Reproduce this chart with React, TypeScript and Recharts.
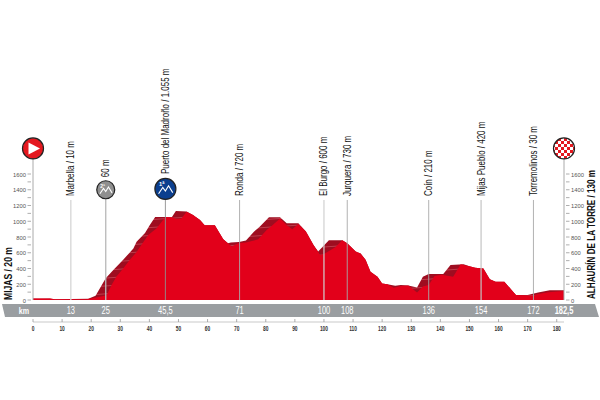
import React from 'react';
import { ComposedChart, Area, XAxis, YAxis, ReferenceLine, ReferenceDot } from 'recharts';

const frontKm = [0,5.8,7.5,18.4,23,25.3,27,28.7,31,33.3,35.6,38,39.6,42.5,45.5,47.7,49.3,51,52.8,55,57.4,59,62.5,64.2,65.4,67,68.3,70.8,73.2,77.4,80.3,82,84.9,87.2,89.1,91.2,93.8,96.4,98.7,100,103.9,106.3,108,110.9,112.6,114.3,116,118.4,120,121.8,124,126.4,129,132,134,136,138,140.5,144.4,147,150,152,154.8,157,159,162,165,166,172,173.6,177,182.5];
const frontAlt = [20,20,10,10,40,60,190,300,400,510,610,740,825,910,1055,1050,1030,1035,1120,1080,1015,950,950,845,770,720,680,725,730,770,890,940,1035,950,900,965,870,700,570,585,670,760,720,615,590,510,360,295,210,200,155,178,185,95,170,190,305,320,295,455,430,410,400,262,233,233,105,65,55,75,100,115];
const backKm = [0,5.8,7.5,19,21.5,23,25,27.6,31,34.5,35.6,38.5,40.2,42,45.5,47.7,49.1,52.8,55,57.4,59,62.5,64.2,65.4,67,68,70.8,73.2,76,77.9,81.1,84.9,87.2,91.2,93.8,96.4,98,101.7,106.3,108,110.9,112.6,114.3,116,118.4,120,121.8,124.5,126.4,129,132,134,136,141,143.5,148,150,152,154.8,157,159,162,165,166,170,173.6,177.6,182.5];
const backAlt = [20,20,10,15,55,150,275,380,510,655,740,850,955,1055,1055,1050,1130,1125,1080,1015,950,950,845,770,720,730,735,755,870,930,1050,1050,975,975,870,700,615,760,760,720,615,590,510,360,295,210,200,180,190,185,160,295,330,330,445,455,430,410,400,262,233,233,105,65,65,95,125,125];

const yTicks = [0,100,200,300,400,500,600,700,800,900,1000,1100,1200,1300,1400,1500,1600];
const scaleTicks = [0,10,20,30,40,50,60,70,80,90,100,110,120,130,140,150,160,170,180];
const kmTicks = [13,25,45.5,71,100,108,136,154,172,182.5];
const kmLabels = ['13','25','45,5','71','100','108','136','154','172','182,5'];

const stopKm = [13,25,45.5,71,100,108,136,154,172];
const stopNames = ['Marbella / 10 m','60 m','Puerto del Madroño / 1.055 m','Ronda / 720 m','El Burgo / 600 m','Jurquera / 730 m','Coín / 210 m','Mijas Pueblo / 420 m','Torremolinos / 30 m'];
const stopLabelAlt = [1320,1560,1600,1320,1320,1320,1320,1320,1320];
const stopLineTop = [1270,1400,1410,1270,1270,1270,1270,1270,1270];
const stopColor = ['#d6d6d6','#b8b8b8','#8e8e8e','#a8a8a8','#d0d0d0','#a8a8a8','#a8a8a8','#c4c4c4','#a8a8a8'];
const stopWidth = [1.3,1.3,0.9,0.9,1.2,0.9,0.9,1.2,0.9];

const startKm = 0;
const finishKm = 182.5;
const signAlt = 1925;
const startName = 'MIJAS / 20 m';
const finishName = 'ALHAURÍN DE LA TORRE / 130 m';

const frontData = frontKm.map((km, i) => ({ km, alt: frontAlt[i] }));
const backData = backKm.map((km, i) => ({ km, alt: backAlt[i] }));
const sans = '"Liberation Sans", sans-serif';

const StopLabel = (text: string) => (p: any) => (
  <text transform={`translate(${p.cx + 3.5},${p.cy}) rotate(-90) scale(0.76,1)`} fontFamily={sans} fontSize={10.5} fill="#111">{text}</text>
);
const StartSign = (p: any) => (
  <g>
    <circle cx={p.cx} cy={p.cy} r={10.5} fill="#e4181f" stroke="#222" strokeWidth={1.2} />
    <path d={`M${p.cx - 4.5} ${p.cy - 6}L${p.cx + 7} ${p.cy}L${p.cx - 4.5} ${p.cy + 6}Z`} fill="#fff" />
  </g>
);
const FinishSign = (p: any) => (
  <g>
    <circle cx={p.cx} cy={p.cy} r={10.5} fill="url(#checks)" stroke="#222" strokeWidth={1.2} />
  </g>
);
const Mountain = ({ cx, cy, fill, r, tag }: any) => (
  <g>
    <circle cx={cx} cy={cy} r={r} fill={fill} stroke="#222" strokeWidth={1.2} />
    <path d={`M${cx - r * 0.65} ${cy + r * 0.45}L${cx - r * 0.25} ${cy - r * 0.15}L${cx} ${cy + r * 0.2}L${cx + r * 0.3} ${cy - r * 0.3}L${cx + r * 0.7} ${cy + r * 0.35}`} fill="none" stroke="#fff" strokeWidth={1.1} />
    <text x={cx - r * 0.6} y={cy - r * 0.25} fontSize={r * 0.55} fontFamily={sans} fontWeight="bold" fill="#fff">{tag}</text>
  </g>
);
const YTick = (anchor: 'end' | 'start') => (p: any) => {
  const major = p.payload.value % 200 === 0;
  const dir = anchor === 'end' ? -1 : 1;
  const ax = p.x - dir * 6;
  return (
    <g>
      <line x1={ax} x2={ax + dir * 3.5} y1={p.y} y2={p.y} stroke="#999" strokeWidth={0.8} />
      {major && <text x={ax + dir * 5} y={p.y + 2.5} textAnchor={anchor} fontSize={5.8} fontFamily={sans} fill="#555">{p.payload.value}</text>}
    </g>
  );
};
const ScaleTick = (p: any) => (
  <g>
    <line x1={p.x} x2={p.x} y1={319} y2={322} stroke="#999" strokeWidth={0.8} />
    <text transform={`translate(${p.x},331) scale(0.75,1)`} textAnchor="middle" fontSize={6.5} fontWeight="bold" fontFamily={sans} fill="#333">{p.payload.value}</text>
  </g>
);
const KmTick = (p: any) => {
  const i = kmTicks.indexOf(p.payload.value);
  const last = i === kmTicks.length - 1;
  return <text transform={`translate(${p.x},314) scale(0.75,1)`} textAnchor="middle" fontSize={10} fontWeight={last ? 'bold' : 'normal'} fontFamily={sans} fill="#fff">{kmLabels[i]}</text>;
};

export default function App() {
  return (
    <div style={{ position: 'absolute', left: 0, top: 0, width: 600, height: 400, background: '#fff' }}>
      <svg width={600} height={400} style={{ position: 'absolute', left: 0, top: 0 }}>
        <polygon points="2,304 595,304 599,317 5,317" fill="#9a9ea1" />
        <text transform="translate(24,314) scale(0.75,1)" textAnchor="middle" fontSize={9.5} fontWeight="bold" fontFamily={sans} fill="#fff">km</text>
      </svg>
      <div style={{ position: 'absolute', left: 0, top: 0 }}>
        <ComposedChart width={600} height={400} margin={{ top: 174, right: 0, bottom: 0, left: 0 }}>
          <defs>
            <pattern id="stripes" patternUnits="userSpaceOnUse" width={40} height={7.875} y={300} patternTransform="rotate(-4)">
              <rect width={40} height={7.875} fill="#9e0d20" />
              <rect width={40} height={0.6} fill="#cf5a66" />
            </pattern>
            <pattern id="checks" patternUnits="userSpaceOnUse" width={6} height={6} x={0} y={0}>
              <rect width={6} height={6} fill="#fff" />
              <rect width={3} height={3} fill="#e4181f" />
              <rect x={3} y={3} width={3} height={3} fill="#e4181f" />
            </pattern>
          </defs>
          <XAxis xAxisId="km" dataKey="km" type="number" domain={[0, 182.5]} ticks={kmTicks} interval={0} height={22} axisLine={false} tickLine={false} tick={KmTick} allowDuplicatedCategory={false} />
          <XAxis xAxisId="scale" dataKey="km" type="number" domain={[0, 182.5]} ticks={scaleTicks} interval={0} height={78} axisLine={{ stroke: '#bbb', strokeWidth: 0.8 }} tickLine={false} tick={ScaleTick} />
          <YAxis yAxisId="l" orientation="left" width={33} domain={[0, 1600]} ticks={yTicks} interval={0} axisLine={{ stroke: '#aaa', strokeWidth: 1 }} tickLine={false} tick={YTick('end')} />
          <YAxis yAxisId="r" orientation="right" width={36} domain={[0, 1600]} ticks={yTicks} interval={0} axisLine={{ stroke: '#aaa', strokeWidth: 1 }} tickLine={false} tick={YTick('start')} />

          <Area xAxisId="scale" yAxisId="r" data={frontData} dataKey="alt" type="linear" stroke="none" fill="none" isAnimationActive={false} dot={false} activeDot={false} />
          <Area xAxisId="km" yAxisId="l" data={backData} dataKey="alt" type="linear" stroke="none" fill="url(#stripes)" fillOpacity={1} isAnimationActive={false} dot={false} activeDot={false} />
          <Area xAxisId="km" yAxisId="l" data={frontData} dataKey="alt" type="linear" stroke="none" fill="#e2001a" fillOpacity={1} isAnimationActive={false} dot={false} activeDot={false} />

          <ReferenceLine xAxisId="km" yAxisId="l" segment={[{ x: startKm, y: 1600 }, { x: startKm, y: signAlt }]} stroke="#aaa" ifOverflow="visible" />
          <ReferenceLine xAxisId="km" yAxisId="l" segment={[{ x: finishKm, y: 1600 }, { x: finishKm, y: signAlt }]} stroke="#aaa" ifOverflow="visible" />
          {stopKm.map((km, i) => (
            <ReferenceLine key={km} xAxisId="km" yAxisId="l" segment={[{ x: km, y: 0 }, { x: km, y: stopLineTop[i] }]} stroke={stopColor[i]} strokeWidth={stopWidth[i]} ifOverflow="visible" />
          ))}
          {stopKm.map((km, i) => (
            <ReferenceDot key={km} xAxisId="km" yAxisId="l" x={km} y={stopLabelAlt[i]} ifOverflow="visible" shape={StopLabel(stopNames[i])} />
          ))}
          <ReferenceDot xAxisId="km" yAxisId="l" x={startKm} y={signAlt} ifOverflow="visible" shape={StartSign} />
          <ReferenceDot xAxisId="km" yAxisId="l" x={finishKm} y={signAlt} ifOverflow="visible" shape={FinishSign} />
          <ReferenceDot xAxisId="km" yAxisId="l" x={25} y={1400} ifOverflow="visible" shape={(p: any) => <Mountain cx={p.cx} cy={p.cy} r={9} fill="#8f8f8f" tag="2ª" />} />
          <ReferenceDot xAxisId="km" yAxisId="l" x={45.5} y={1410} ifOverflow="visible" shape={(p: any) => <Mountain cx={p.cx} cy={p.cy} r={10.5} fill="#0b3f8f" tag="1ª" />} />
        </ComposedChart>
      </div>
      <svg width={600} height={400} style={{ position: 'absolute', left: 0, top: 0, pointerEvents: 'none' }}>
        <text transform="translate(12,300) rotate(-90) scale(0.78,1)" fontSize={11} fontWeight="bold" fontFamily={sans} fill="#111">{startName}</text>
        <text transform="translate(595,299) rotate(-90) scale(0.74,1)" fontSize={11} fontWeight="bold" fontFamily={sans} fill="#111">{finishName}</text>
      </svg>
    </div>
  );
}
